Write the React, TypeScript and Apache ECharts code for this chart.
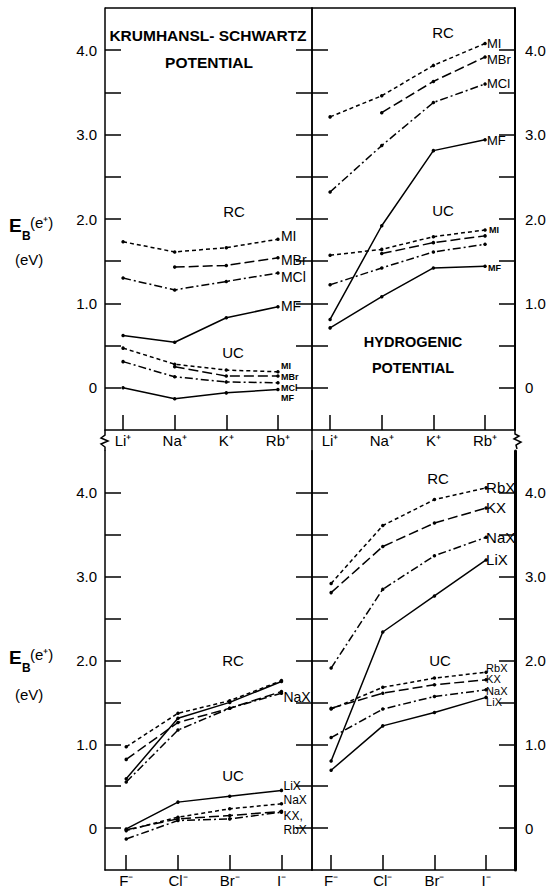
import React, { useEffect, useRef } from 'react';
import * as echarts from 'echarts';

// ---- categories ----
const cations = ['Li⁺', 'Na⁺', 'K⁺', 'Rb⁺'];
const anions = ['F⁻', 'Cl⁻', 'Br⁻', 'I⁻'];
const catIdx = [0, 1, 2, 3];
const yTickValues = [0, 0.5, 1, 1.5, 2, 2.5, 3, 3.5, 4];
const yLabelValues = [0, 1, 2, 3, 4];

// ---- Krumhansl-Schwartz potential, cations (top-left) ----
const ksRC_MI = [1.73, 1.61, 1.66, 1.76];
const ksRC_MBr = [null, 1.43, 1.45, 1.54];
const ksRC_MCl = [1.30, 1.16, 1.26, 1.36];
const ksRC_MF = [0.62, 0.54, 0.83, 0.96];
const ksUC_MI = [0.47, 0.28, 0.21, 0.19];
const ksUC_MBr = [null, 0.25, 0.14, 0.14];
const ksUC_MCl = [0.31, 0.13, 0.07, 0.06];
const ksUC_MF = [0.0, -0.13, -0.06, -0.02];

// ---- Hydrogenic potential, cations (top-right) ----
const hyRC_MI = [3.21, 3.46, 3.82, 4.08];
const hyRC_MBr = [null, 3.26, 3.63, 3.92];
const hyRC_MCl = [2.32, 2.87, 3.38, 3.60];
const hyRC_MF = [0.81, 1.92, 2.81, 2.94];
const hyUC_MI = [1.57, 1.64, 1.79, 1.87];
const hyUC_MBr = [null, 1.59, 1.72, 1.80];
const hyUC_MCl = [1.22, 1.42, 1.61, 1.70];
const hyUC_MF = [0.71, 1.08, 1.42, 1.44];

// ---- Krumhansl-Schwartz potential, anions (bottom-left) ----
const ksRC_RbX = [0.97, 1.37, 1.52, 1.76];
const ksRC_KX = [0.82, 1.26, 1.43, 1.63];
const ksRC_NaX = [0.55, 1.17, 1.43, 1.61];
const ksRC_LiX = [0.59, 1.31, 1.50, 1.75];
const ksUC_LiX = [-0.01, 0.31, 0.38, 0.45];
const ksUC_NaX = [-0.03, 0.13, 0.23, 0.29];
const ksUC_KX = [-0.02, 0.11, 0.15, 0.20];
const ksUC_RbX = [-0.13, 0.09, 0.11, 0.19];

// ---- Hydrogenic potential, anions (bottom-right) ----
const hyRC_RbX = [2.92, 3.61, 3.92, 4.06];
const hyRC_KX = [2.81, 3.36, 3.64, 3.82];
const hyRC_NaX = [1.91, 2.85, 3.25, 3.47];
const hyRC_LiX = [0.80, 2.34, 2.77, 3.20];
const hyUC_RbX = [1.42, 1.68, 1.79, 1.86];
const hyUC_KX = [1.43, 1.61, 1.71, 1.77];
const hyUC_NaX = [1.08, 1.42, 1.57, 1.65];
const hyUC_LiX = [0.69, 1.22, 1.38, 1.56];

const FONT = 'Liberation Sans, Arial, sans-serif';
const SHORT = [4, 3];
const LONG = [10, 4];
const DASHDOT = [8, 3, 2, 3];

function pts(arr: (number | null)[]) {
  return arr
    .map((v, i) => (v == null ? null : [i, v]))
    .filter((p) => p != null);
}

function line(
  data: (number | null)[],
  dash: any,
  grid: number,
  label?: { text: string; dx?: number; dy?: number; size?: number; bold?: boolean }
) {
  return {
    type: 'line',
    xAxisIndex: grid,
    yAxisIndex: grid * 2,
    data: pts(data),
    symbol: 'circle',
    symbolSize: 3.5,
    itemStyle: { color: '#000' },
    lineStyle: { color: '#000', width: 1.5, type: dash },
    silent: true,
    endLabel: label
      ? {
          show: true,
          formatter: label.text,
          offset: [label.dx ?? 0, label.dy ?? 0],
          fontSize: label.size ?? 14,
          fontWeight: label.bold ? 'bold' : 'normal',
          fontFamily: FONT,
          color: '#000',
          distance: 3,
        }
      : { show: false },
  };
}

function xAxis(grid: number, min: number, max: number, names: string[]) {
  return {
    type: 'value',
    gridIndex: grid,
    min,
    max,
    position: 'bottom',
    axisLine: { show: true, onZero: false, lineStyle: { color: '#000', width: 1.5 } },
    axisTick: { show: true, inside: true, length: 15, customValues: catIdx, lineStyle: { color: '#000', width: 1.5 } },
    axisLabel: {
      show: true,
      customValues: catIdx,
      formatter: (v: number) => names[Math.round(v)] ?? '',
      margin: 3,
      fontSize: 15,
      fontFamily: FONT,
      color: '#000',
    },
    splitLine: { show: false },
  };
}

function yAxis(grid: number, position: 'left' | 'right', labels: boolean, lineWidth = 1.5) {
  return {
    type: 'value',
    gridIndex: grid,
    min: -0.5,
    max: 4.5,
    position,
    axisLine: { show: true, onZero: false, lineStyle: { color: '#000', width: lineWidth } },
    axisTick: { show: true, inside: true, length: 16, customValues: yTickValues, lineStyle: { color: '#000', width: 1.5 } },
    axisLabel: {
      show: labels,
      customValues: yLabelValues,
      formatter: (v: number) => (v === 0 ? '0' : v.toFixed(1)),
      margin: position === 'left' ? 8 : 10,
      fontSize: 15,
      fontFamily: FONT,
      color: '#000',
    },
    splitLine: { show: false },
  };
}

function txt(text: string, x: number, y: number, size: number, opts: any = {}) {
  return {
    type: 'text',
    x,
    y,
    silent: true,
    style: {
      text,
      fill: '#000',
      font: `${opts.weight ?? 'normal'} ${size}px ${FONT}`,
      textAlign: opts.align ?? 'center',
      textVerticalAlign: 'middle',
    },
  };
}

export default function App() {
  const ref = useRef<HTMLDivElement>(null);
  useEffect(() => {
    if (!ref.current) return;
    const chart = echarts.init(ref.current, undefined, { renderer: 'svg' });
    const S = 1.5;
    const option: any = {
      animation: false,
      backgroundColor: '#fff',
      grid: [
        { left: 105, top: 8, width: 207, height: 422 },
        { left: 312, top: 8, width: 203, height: 422 },
        { left: 105, top: 451, width: 207, height: 419 },
        { left: 312, top: 451, width: 203, height: 419 },
      ],
      xAxis: [
        xAxis(0, -0.35, 3.66, cations),
        xAxis(1, -0.35, 3.58, cations),
        xAxis(2, -0.41, 3.59, anions),
        xAxis(3, -0.37, 3.56, anions),
      ],
      yAxis: [
        yAxis(0, 'left', true),
        yAxis(0, 'right', false),
        yAxis(1, 'left', false),
        yAxis(1, 'right', true, 2),
        yAxis(2, 'left', true),
        yAxis(2, 'right', false),
        yAxis(3, 'left', false),
        yAxis(3, 'right', true, 3),
      ],
      series: [
        // top-left
        line(ksRC_MI, SHORT, 0, { text: 'MI', dy: -3 }),
        line(ksRC_MBr, LONG, 0, { text: 'MBr', dy: 2 }),
        line(ksRC_MCl, DASHDOT, 0, { text: 'MCl', dy: 4 }),
        line(ksRC_MF, 'solid', 0, { text: 'MF', dy: -1 }),
        line(ksUC_MI, SHORT, 0, { text: 'MI', dy: -6, size: 9, bold: true }),
        line(ksUC_MBr, LONG, 0, { text: 'MBr', dy: 1, size: 9, bold: true }),
        line(ksUC_MCl, DASHDOT, 0, { text: 'MCl', dy: 5, size: 9, bold: true }),
        line(ksUC_MF, 'solid', 0, { text: 'MF', dy: 9, size: 9, bold: true }),
        // top-right
        line(hyRC_MI, SHORT, 1, { text: 'MI', dx: -1, size: 13 }),
        line(hyRC_MBr, LONG, 1, { text: 'MBr', dx: -1, dy: 3, size: 13 }),
        line(hyRC_MCl, DASHDOT, 1, { text: 'MCl', dx: -1, size: 13 }),
        line(hyRC_MF, 'solid', 1, { text: 'MF', dx: -1, dy: 1, size: 13 }),
        line(hyUC_MI, SHORT, 1, { text: 'MI', dx: 1, size: 9, bold: true }),
        line(hyUC_MBr, LONG, 1),
        line(hyUC_MCl, DASHDOT, 1),
        line(hyUC_MF, 'solid', 1, { text: 'MF', dy: 2, size: 9, bold: true }),
        // bottom-left
        line(ksRC_RbX, SHORT, 2),
        line(ksRC_KX, LONG, 2),
        line(ksRC_NaX, DASHDOT, 2, { text: 'NaX', dx: -1, dy: 4, size: 14 }),
        line(ksRC_LiX, 'solid', 2),
        line(ksUC_LiX, 'solid', 2, { text: 'LiX', dx: -1, dy: -4, size: 12 }),
        line(ksUC_NaX, SHORT, 2, { text: 'NaX', dx: -1, dy: -4, size: 12 }),
        line(ksUC_KX, LONG, 2, { text: 'KX,', dx: -1, dy: 5, size: 12 }),
        line(ksUC_RbX, DASHDOT, 2, { text: 'RbX', dx: -1, dy: 18, size: 12 }),
        // bottom-right
        line(hyRC_RbX, SHORT, 3, { text: 'RbX', dx: -3, size: 15 }),
        line(hyRC_KX, LONG, 3, { text: 'KX', dx: -3, size: 15 }),
        line(hyRC_NaX, DASHDOT, 3, { text: 'NaX', dx: -3, size: 15 }),
        line(hyRC_LiX, 'solid', 3, { text: 'LiX', dx: -3, size: 15 }),
        line(hyUC_RbX, SHORT, 3, { text: 'RbX', dx: -3, dy: -4, size: 11 }),
        line(hyUC_KX, LONG, 3, { text: 'KX', dx: -3, dy: -1, size: 11 }),
        line(hyUC_NaX, DASHDOT, 3, { text: 'NaX', dx: -3, dy: 1, size: 11 }),
        line(hyUC_LiX, 'solid', 3, { text: 'LiX', dx: -3, dy: 5, size: 11 }),
      ],
      graphic: [
        // frame pieces
        { type: 'line', silent: true, shape: { x1: 105, y1: 8, x2: 515, y2: 8 }, style: { stroke: '#000', lineWidth: S } },
        { type: 'line', silent: true, shape: { x1: 312, y1: 430, x2: 312, y2: 451 }, style: { stroke: '#000', lineWidth: S } },
        {
          type: 'polyline', silent: true,
          shape: { points: [[105, 430], [105, 435], [101, 438], [108, 441], [101, 444], [105, 447], [105, 451]] },
          style: { stroke: '#000', lineWidth: S, fill: 'none' },
        },
        {
          type: 'polyline', silent: true,
          shape: { points: [[515, 430], [515, 434], [519, 436], [514, 439], [521, 442], [516, 445], [517, 449]] },
          style: { stroke: '#000', lineWidth: S, fill: 'none' },
        },
        // titles
        txt('KRUMHANSL- SCHWARTZ', 208, 35, 15.5, { weight: 900 }),
        txt('POTENTIAL', 209, 62, 15.5, { weight: 900 }),
        txt('HYDROGENIC', 413, 342, 14.5, { weight: 900 }),
        txt('POTENTIAL', 413, 368, 14.5, { weight: 900 }),
        // RC / UC
        txt('RC', 234, 211, 15),
        txt('UC', 233, 352, 15),
        txt('RC', 443, 32, 15),
        txt('UC', 443, 210, 15),
        txt('RC', 233, 660, 15),
        txt('UC', 233, 775, 15),
        txt('RC', 438, 478, 15),
        txt('UC', 440, 660, 15),
        // y axis titles
        txt('E', 9, 225, 19, { weight: 'bold', align: 'left' }),
        txt('B', 22, 236, 12, { weight: 'bold', align: 'left' }),
        txt('(e⁺)', 30, 222, 15, { align: 'left' }),
        txt('(eV)', 15, 259, 15, { align: 'left' }),
        txt('E', 9, 657, 19, { weight: 'bold', align: 'left' }),
        txt('B', 22, 668, 12, { weight: 'bold', align: 'left' }),
        txt('(e⁺)', 30, 654, 15, { align: 'left' }),
        txt('(eV)', 15, 694, 15, { align: 'left' }),
      ],
    };
    chart.setOption(option);
    return () => chart.dispose();
  }, []);
  return (
    <div
      ref={ref}
      style={{ position: 'absolute', left: 0, top: 0, width: 553, height: 892, background: '#fff' }}
    />
  );
}
